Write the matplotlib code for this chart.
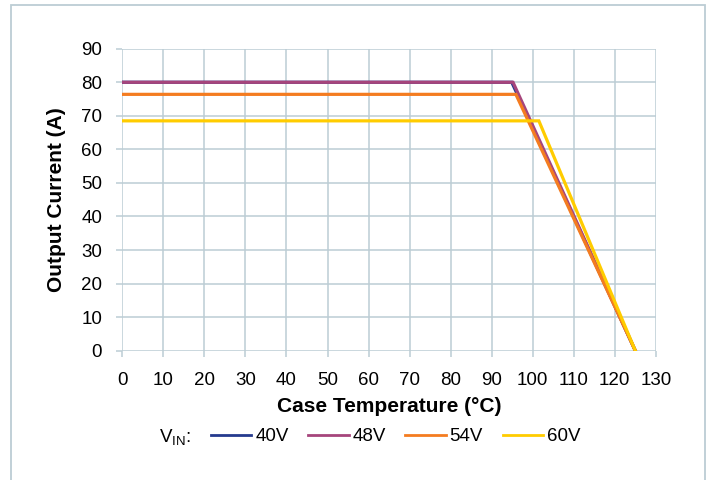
import matplotlib
matplotlib.use("Agg")
import matplotlib.pyplot as plt
from matplotlib.patches import Rectangle

plt.rcParams['font.family'] = ['Liberation Sans', 'DejaVu Sans']
plt.rcParams['mathtext.fontset'] = 'custom'
plt.rcParams['mathtext.rm'] = 'Liberation Sans'
plt.rcParams['mathtext.it'] = 'Liberation Sans'

labels = ['40V', '48V', '54V', '60V']
colors = ['#253a8e', '#a6457c', '#f47c20', '#ffcc00']
temps = [
    [0, 94.9, 125],
    [0, 95.2, 125],
    [0, 95.9, 125],
    [0, 101.5, 125],
]
currents = [
    [80, 80, 0],
    [80, 80, 0],
    [76.4, 76.4, 0],
    [68.5, 68.5, 0],
]
xticks = list(range(0, 131, 10))
yticks = list(range(0, 91, 10))

grid_c = '#bccdd4'

fig = plt.figure(figsize=(7.09, 4.8), dpi=100)
ax = fig.add_axes([0.1725, 0.2694, 0.925 - 0.1725, 0.8985 - 0.2694])

for t, c, col, lab in zip(temps, currents, colors, labels):
    ax.plot(t, c, color=col, lw=2.3, label=lab, solid_joinstyle='miter')

ax.set_xlim(0, 130)
ax.set_ylim(0, 90)
ax.set_xticks(xticks)
ax.set_yticks(yticks)
ax.grid(True, color=grid_c, lw=1.1)
ax.set_axisbelow(True)
for s in ax.spines.values():
    s.set_visible(False)
ax.tick_params(axis='both', colors=grid_c, length=4, width=1.1, labelsize=13.5,
               labelcolor='black')
ax.tick_params(axis='x', pad=11)
ax.tick_params(axis='y', pad=10.5)
ax.set_xlabel('Case Temperature (°C)', fontsize=15, fontweight='bold', labelpad=6)
ax.set_ylabel('Output Current (A)', fontsize=15, fontweight='bold', labelpad=11)

handles, labs = ax.get_legend_handles_labels()
leg = fig.legend(handles, labs, loc='center', bbox_to_anchor=(0.558, 0.09), ncol=4,
                 frameon=False, fontsize=13.5, handlelength=2.15, handletextpad=0.2,
                 columnspacing=1.05)
for h in leg.legend_handles:
    h.set_linewidth(2.0)
fig.text(0.247, 0.09, r'V$_{\mathregular{IN}}$:', fontsize=13.5, ha='center', va='center')

fig.patches.append(Rectangle((11 / 709, -0.1), (705 - 11) / 709, 1 - 5 / 480 + 0.1,
                             transform=fig.transFigure, fill=False,
                             edgecolor='#bccdd4', lw=1.3))

fig.savefig('out.png', dpi=100)
